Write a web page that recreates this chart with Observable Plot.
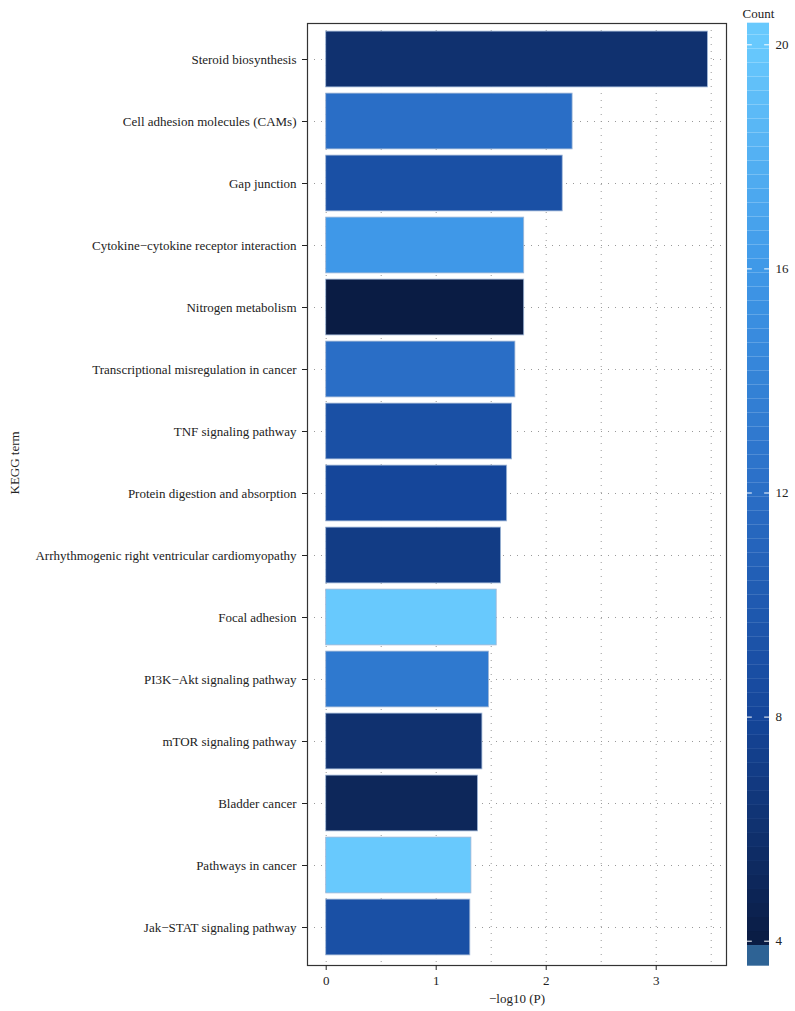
<!DOCTYPE html>
<html>
<head>
<meta charset="utf-8">
<script src="https://cdn.jsdelivr.net/npm/d3@7"></script>
<script src="https://cdn.jsdelivr.net/npm/@observablehq/plot@0.6"></script>
<style>
  body { margin: 0; background: #fff; }
  #wrap { position: relative; width: 795px; height: 1011px; }
  #main { position: absolute; left: 0; top: 0; }
  #legend { position: absolute; left: 740px; top: 0; }
</style>
</head>
<body>
<div id="wrap"><div id="main"></div><div id="legend"></div></div>
<script>
const terms = [
  "Steroid biosynthesis",
  "Cell adhesion molecules (CAMs)",
  "Gap junction",
  "Cytokine\u2212cytokine receptor interaction",
  "Nitrogen metabolism",
  "Transcriptional misregulation in cancer",
  "TNF signaling pathway",
  "Protein digestion and absorption",
  "Arrhythmogenic right ventricular cardiomyopathy",
  "Focal adhesion",
  "PI3K\u2212Akt signaling pathway",
  "mTOR signaling pathway",
  "Bladder cancer",
  "Pathways in cancer",
  "Jak\u2212STAT signaling pathway"
];
const logP = [3.47, 2.24, 2.15, 1.80, 1.80, 1.72, 1.69, 1.645, 1.59, 1.55, 1.48, 1.42, 1.38, 1.32, 1.31];
const counts = [6, 12, 9, 16, 4, 12, 9, 8, 7, 20, 13, 6, 5, 20, 9];
const xTicks = [0, 1, 2, 3];
const gridX = [0, 0.5, 1, 1.5, 2, 2.5, 3, 3.5];
const legendTicks = [4, 8, 12, 16, 20];

const colorStops = [4, 8, 12, 16, 20];
const colorRange = ["#0a1c44", "#15469a", "#2a6ec6", "#3f98e8", "#68c9fd"];
const colorScale = {type: "linear", domain: colorStops, range: colorRange, interpolate: "rgb", clamp: true};

const data = terms.map((t, i) => ({term: t, p: logP[i], count: counts[i]}));
const font = "'Liberation Serif', 'DejaVu Serif', serif";

const main = Plot.plot({
  width: 740,
  height: 1011,
  marginLeft: 307,
  marginRight: 14,
  marginTop: 23,
  marginBottom: 46,
  style: {fontFamily: font, fontSize: "13px", color: "#222", background: "#fff"},
  x: {domain: [-0.170, 3.639]},
  y: {domain: terms, range: [28, 958], paddingInner: 0.1, paddingOuter: 0.05, round: false},
  color: colorScale,
  marks: [
    Plot.ruleX(gridX, {stroke: "#999", strokeWidth: 1, strokeDasharray: "1,6"}),
    Plot.ruleY(terms, {y: d => d, stroke: "#999", strokeWidth: 1, strokeDasharray: "1,6"}),
    Plot.barX(data, {x: "p", y: "term", fill: "count", stroke: "#9fb6d6", strokeWidth: 0.8}),
    Plot.frame({stroke: "#333", strokeWidth: 1.2}),
    Plot.axisY({tickSize: 5, tickPadding: 6, label: null, fontSize: 13}),
    Plot.axisX({ticks: xTicks, tickSize: 5, tickPadding: 5, label: null, fontSize: 13, tickFormat: d3.format("d")}),
    Plot.text(["\u2212log10 (P)"], {frameAnchor: "bottom", dy: 37, fontSize: 13, fill: "#222"}),
    Plot.text(["KEGG term"], {frameAnchor: "left", rotate: -90, dx: -293, fontSize: 13, fill: "#222"})
  ]
});
document.getElementById("main").appendChild(main);

// colorbar legend
const binEdges = d3.range(3.923, 20.386, 0.25).concat([20.386]);
const bins = binEdges.slice(0, -1).map((lo, i) => ({lo, hi: binEdges[i + 1], mid: (lo + binEdges[i + 1]) / 2}));
const bottomBin = [{lo: 3.554, hi: 3.923}];

const legend = Plot.plot({
  width: 55,
  height: 1011,
  margin: 0,
  style: {fontFamily: font, fontSize: "13px", color: "#222", background: "transparent"},
  x: {domain: [0, 1], range: [7, 29], axis: null},
  y: {domain: [4, 20], range: [940.7, 44.3], axis: null},
  color: colorScale,
  marks: [
    Plot.rect(bins, {x1: d => 0, x2: d => 1, y1: "lo", y2: "hi", fill: "mid"}),
    Plot.rect(bottomBin, {x1: d => 0, x2: d => 1, y1: "lo", y2: "hi", fill: "#2e6395"}),
    Plot.ruleY(legendTicks, {x1: d => 0, x2: d => 0.22, stroke: "#fff", strokeWidth: 1}),
    Plot.ruleY(legendTicks, {x1: d => 0.78, x2: d => 1, stroke: "#fff", strokeWidth: 1}),
    Plot.text(legendTicks, {x: d => 1, y: d => d, dx: 6, textAnchor: "start", fontSize: 13, fill: "#222"}),
    Plot.text(["Count"], {x: d => 0.5, y: d => 20.56, fontSize: 13, fill: "#222"})
  ]
});
document.getElementById("legend").appendChild(legend);
</script>
</body>
</html>
